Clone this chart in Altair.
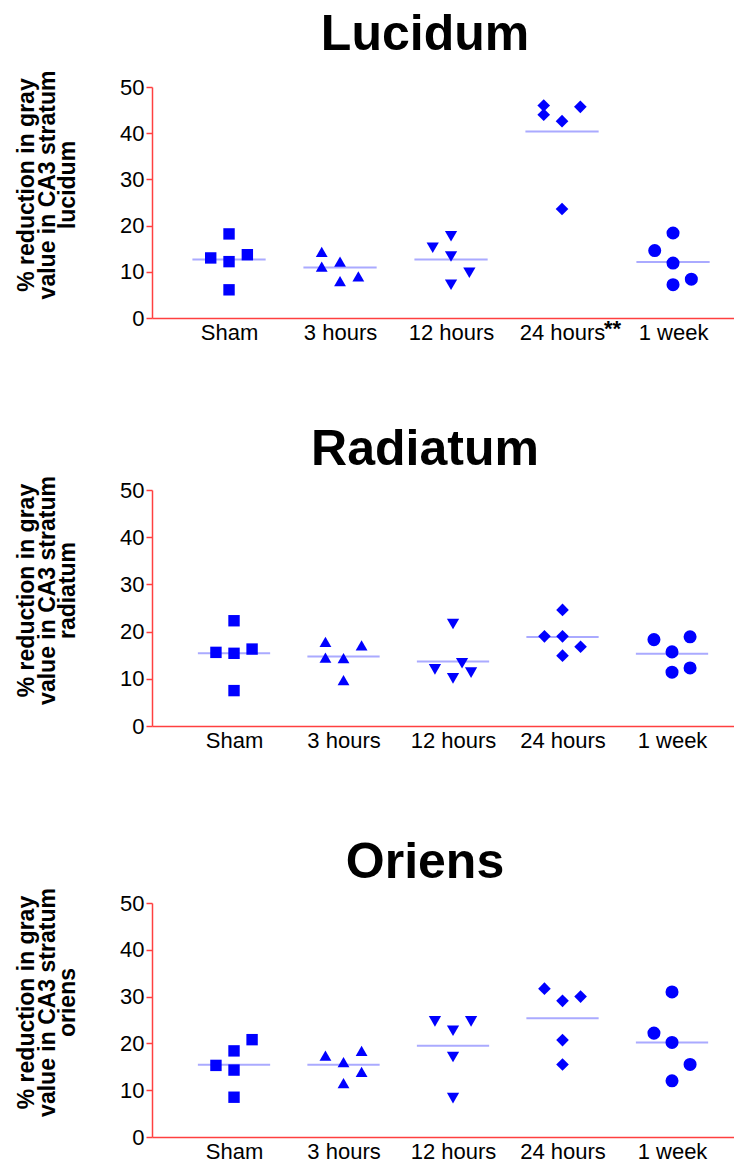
import altair as alt
import pandas as pd

groups = ["Sham", "3 hours", "12 hours", "24 hours", "1 week"]
shapes = ["square", "triangle-up", "triangle-down", "diamond", "circle"]
shape_sizes = [130, 170, 170, 150, 125]

# values, one list per group (Sham, 3 h, 12 h, 24 h, 1 week)
lucidum_values = [
    [18.2, 13.0, 12.2, 13.7, 6.1],
    [14.3, 11.1, 12.2, 8.0, 9.0],
    [15.2, 17.7, 13.3, 9.8, 7.2],
    [46.0, 44.0, 45.7, 42.6, 23.6],
    [18.4, 14.6, 11.9, 8.4, 7.2],
]
lucidum_lanes = [
    [0, -1, 0, 1, 0],
    [-1, -1, 0, 0, 1],
    [-1, 0, 0, 1, 0],
    [-1, -1, 1, 0, 0],
    [0, -1, 0, 1, 0],
]

radiatum_values = [
    [22.3, 15.6, 15.4, 16.3, 7.5],
    [17.8, 14.5, 14.4, 17.1, 9.7],
    [21.6, 12.0, 13.3, 11.3, 10.1],
    [24.6, 19.0, 19.0, 16.8, 14.9],
    [18.3, 18.9, 15.7, 12.3, 11.4],
]
radiatum_lanes = [
    [0, -1, 0, 1, 0],
    [-1, -1, 0, 1, 0],
    [0, -1, 0.5, 1, 0],
    [0, -1, 0, 1, 0],
    [-1, 1, 0, 1, 0],
]

oriens_values = [
    [20.8, 18.4, 15.3, 14.3, 8.5],
    [17.4, 18.4, 16.0, 13.9, 11.5],
    [24.7, 24.7, 22.7, 17.1, 8.3],
    [31.7, 29.1, 30.0, 20.7, 15.5],
    [31.0, 22.2, 20.2, 15.5, 12.0],
]
oriens_lanes = [
    [1, 0, -1, 0, 0],
    [-1, 1, 0, 1, 0],
    [-1, 1, 0, 0, 0],
    [-1, 0, 1, 0, 0],
    [0, -1, 0, 1, 0],
]

FONT = "Liberation Sans"
RED = "#ff4040"
BLUE = "#0000ff"
MEAN = "#aaaaff"
W = 582


def make_df(values, lanes):
    rows = []
    for gi, (g, vs, ls) in enumerate(zip(groups, values, lanes)):
        for v, l in zip(vs, ls):
            rows.append({"group": g, "idx": gi + 1, "lane": l, "value": v})
    return pd.DataFrame(rows)


label_expr = "[" + ",".join("'%s'" % g for g in groups) + "][datum.value - 1]"


def panel(df, title, last_line, xdomain, height, title_offset, star=False):
    xs = alt.Scale(domain=xdomain, nice=False, zero=False)
    ys = alt.Scale(domain=[0, 50], nice=False, zero=True)
    xaxis = alt.Axis(values=[1, 2, 3, 4, 5], labelExpr=label_expr, ticks=False,
                     domainColor=RED, domainWidth=1.5, labelFontSize=22,
                     labelPadding=4, labelColor="black", grid=False, title=None,
                     labelFont=FONT)
    yaxis = alt.Axis(values=[0, 10, 20, 30, 40, 50], tickColor=RED, tickSize=6,
                     tickWidth=1.5, domainColor=RED, domainWidth=1.5,
                     labelFontSize=22, labelPadding=2, labelColor="black",
                     grid=False, labelFont=FONT,
                     title=["% reduction in gray", "value in CA3 stratum", last_line],
                     titleFontSize=23, titleFontWeight="bold", titleFont=FONT,
                     titleLineHeight=20.5, titlePadding=40, titleColor="black",
                     titleY=height / 2 - 18)
    base = alt.Chart(df)
    means = base.transform_aggregate(
        mean="mean(value)", groupby=["idx"]
    ).transform_calculate(
        x1="datum.idx - 0.33", x2="datum.idx + 0.33"
    ).mark_rule(color=MEAN, strokeWidth=2).encode(
        x=alt.X("x1:Q", scale=xs, axis=xaxis),
        x2="x2:Q",
        y=alt.Y("mean:Q", scale=ys, axis=yaxis),
    )
    pts = base.transform_calculate(
        xpos="datum.idx + datum.lane * 0.165"
    ).mark_point(filled=True, opacity=1, color=BLUE).encode(
        x=alt.X("xpos:Q", scale=xs, axis=xaxis),
        y=alt.Y("value:Q", scale=ys, axis=yaxis),
        shape=alt.Shape("group:N", scale=alt.Scale(domain=groups, range=shapes), legend=None),
        size=alt.Size("group:N", scale=alt.Scale(domain=groups, range=shape_sizes), legend=None),
    )
    layers = [means, pts]
    if star:
        star_df = pd.DataFrame({"idx": [4], "note": ["**"]})
        stars = alt.Chart(star_df).mark_text(
            align="left", baseline="top", dx=42, fontSize=22, font=FONT,
            fontWeight="bold", color="black"
        ).encode(
            x=alt.X("idx:Q", scale=xs, axis=xaxis),
            y=alt.value(height + 1),
            text="note:N",
        )
        layers.append(stars)
    return alt.layer(*layers).properties(
        width=W, height=height,
        title=alt.Title(title, fontSize=50, fontWeight="bold", font=FONT,
                        anchor="middle", frame="group", dx=-18,
                        offset=title_offset, color="black"),
    )


p1 = panel(make_df(lucidum_values, lucidum_lanes), "Lucidum", "lucidum",
           [0.306, 0.306 + W / 111.0], 231, 10, star=True)
p2 = panel(make_df(radiatum_values, radiatum_lanes), "Radiatum", "radiatum",
           [0.251, 0.251 + W / 109.5], 236, 1)
p3 = panel(make_df(oriens_values, oriens_lanes), "Oriens", "oriens",
           [0.251, 0.251 + W / 109.5], 234, 0)

top = alt.vconcat(p1, p2, spacing=81)
chart = alt.vconcat(top, p3, spacing=86).properties(
    padding={"left": 7, "top": 2, "right": 0, "bottom": 0}
).configure(font=FONT).configure_view(stroke=None, strokeWidth=0)

chart.save("out.html", embed_options={"renderer": "svg", "actions": False})
